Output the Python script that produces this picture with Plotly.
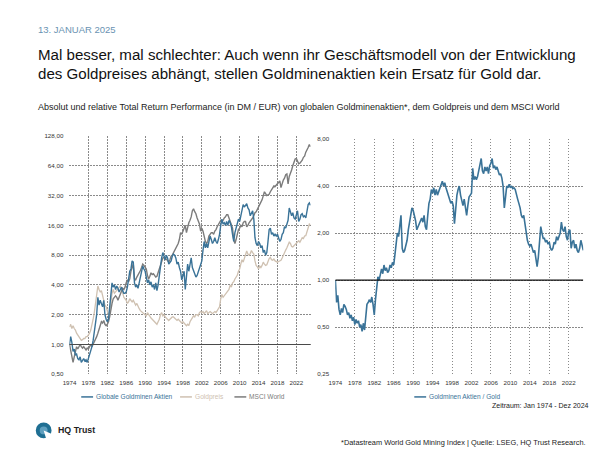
import math
import pandas as pd
import plotly.graph_objects as go

# ---------------- data (quarterly readings, Jan 1974 .. Jan 2025) ----------------
miners = [
    1.0, 1.2, 1.05, 0.85,   0.9, 0.78, 0.8, 0.72,   0.7, 0.75, 0.66, 0.7,   0.72, 0.68, 0.7, 0.66,
    0.72, 0.8, 0.9, 0.95,   1.1, 1.3, 1.6, 2.0,     3.0, 2.5, 2.8, 2.6,     2.4, 2.8, 2.0, 1.8,
    1.7, 1.8, 2.4, 3.5,     4.2, 3.8, 4.0, 3.6,     3.9, 3.7, 3.4, 3.6,     3.8, 3.5, 3.3, 3.3,
    3.4, 3.8, 4.5, 5.5,     5.8, 7.0, 6.8, 4.2,     3.8, 4.0, 3.7, 4.2,     4.8, 5.5, 6.2, 5.8,
    5.5, 4.8, 4.2, 4.5,     4.0, 4.3, 3.8, 4.0,     3.6, 4.2, 3.5, 4.0,     5.0, 6.5, 7.5, 8.5,
    7.8, 7.2, 8.0, 7.5,     6.5, 6.8, 7.0, 7.8,     8.2, 8.0, 7.5, 6.5,     6.8, 6.0, 5.5, 4.5,
    5.2, 5.5, 3.6, 5.0,     6.5, 5.5, 6.5, 7.5,     6.0, 5.5, 5.2, 4.8,     5.0, 5.5, 5.8, 6.5,
    7.0, 9.0, 11.0, 9.5,    10.5, 9.5, 11.0, 12.5,  11.5, 10.5, 11.0, 12.0, 11.0, 10.5, 11.5, 13.0,
    16.0, 18.5, 16.5, 17.0, 16.0, 17.5, 16.0, 18.0, 17.0, 15.5, 13.0, 11.0, 13.5, 15.0, 16.0, 18.5,
    17.5, 20.0, 23.0, 26.0, 24.5, 25.5, 26.5, 24.0, 23.0, 20.0, 21.0, 22.5, 18.5, 12.0, 10.5, 10.0,
    11.0, 10.5, 9.5, 10.0,  8.5, 9.0, 8.0, 8.5,     11.0, 14.5, 15.0, 13.0, 13.5, 12.5, 13.0, 12.5,
    13.0, 12.0, 11.0, 11.5, 13.0, 13.5, 15.5, 15.0, 16.5, 18.0, 24.0, 22.0, 20.0, 21.5, 19.0, 18.5,
    21.0, 22.5, 17.5, 18.5, 20.5, 21.0, 19.5, 20.0, 19.0, 23.0, 26.0, 27.0,
    25.5,
]

gold = [
    1.5, 1.6, 1.45, 1.55,   1.45, 1.4, 1.3, 1.25,   1.2, 1.15, 1.1, 1.12,   1.15, 1.15, 1.2, 1.2,
    1.25, 1.3, 1.4, 1.55,   1.8, 2.1, 2.6, 3.6,     3.9, 3.6, 3.4, 3.5,     3.1, 2.8, 2.5, 2.4,
    2.2, 2.0, 2.1, 2.9,     3.3, 3.6, 3.3, 3.4,     3.5, 3.6, 3.7, 3.9,     3.7, 3.3, 3.0, 2.9,
    2.8, 2.6, 2.7, 2.9,     2.8, 2.7, 2.8, 2.6,     2.5, 2.6, 2.4, 2.3,     2.2, 2.15, 2.1, 2.05,
    2.0, 1.95, 2.1, 2.0,    1.9, 1.85, 1.8, 1.75,   1.7, 1.65, 1.6, 1.7,    1.8, 2.0, 2.1, 1.95,
    2.0, 1.9, 1.85, 1.8,    1.75, 1.8, 1.85, 1.9,   1.9, 1.85, 1.8, 1.75,   1.8, 1.75, 1.7, 1.65,
    1.7, 1.65, 1.6, 1.55,   1.6, 1.55, 1.7, 1.8,    1.9, 1.95, 1.9, 2.0,    2.0, 1.95, 2.1, 2.15,
    2.1, 2.15, 2.05, 2.1,   2.2, 2.05, 2.1, 2.15,   2.1, 2.05, 2.1, 2.15,   2.1, 2.2, 2.25, 2.4,
    2.9, 3.2, 3.0, 3.1,     3.2, 3.3, 3.4, 3.6,     4.0, 3.8, 4.2, 4.3,     4.6, 4.8, 5.0, 5.5,
    5.8, 6.5, 7.2, 6.8,     7.5, 8.0, 8.8, 8.2,     8.0, 8.3, 8.9, 8.5,     8.2, 7.0, 6.3, 6.1,
    5.8, 6.2, 6.0, 6.3,     6.8, 6.5, 6.3, 6.4,     7.0, 7.4, 7.6, 7.2,     7.1, 7.3, 7.0, 6.9,
    6.8, 6.9, 7.0, 7.1,     7.5, 8.0, 8.8, 9.0,     9.5, 10.0, 10.8, 10.5,  9.8, 9.7, 10.0, 10.3,
    10.5, 11.0, 11.2, 10.8, 11.5, 12.0, 11.8, 12.5, 12.6, 14.0, 15.0, 16.5,
    16.2,
]

msci = [
    1.0, 0.85, 0.75, 0.66,  0.75, 0.85, 0.95, 0.9,  0.95, 1.0, 0.95, 0.92,  0.95, 0.9, 0.88, 0.92,
    0.9, 0.95, 1.0, 0.95,   1.0, 1.05, 1.1, 1.2,    1.3, 1.45, 1.55, 1.7,   1.65, 1.75, 1.6, 1.55,
    1.6, 1.7, 1.9, 2.3,     2.6, 2.9, 3.0, 3.1,     3.0, 2.8, 3.0, 3.2,     3.5, 3.7, 3.6, 3.8,
    4.2, 4.5, 4.3, 4.6,     5.5, 6.0, 6.5, 4.6,     4.5, 4.8, 5.0, 5.3,     5.6, 6.0, 6.5, 6.3,
    6.0, 5.8, 5.0, 4.6,     4.9, 5.3, 5.1, 5.2,     5.0, 4.8, 4.9, 5.3,     5.8, 6.5, 7.0, 7.5,
    7.6, 7.2, 7.3, 7.0,     6.8, 7.2, 7.8, 8.0,     8.5, 9.0, 9.2, 9.8,     10.5, 11.5, 13.5, 13.0,
    14.0, 15.5, 16.0, 13.5, 15.5, 17.0, 18.0, 19.5, 22.5, 23.5, 22.0, 21.0, 19.0, 17.5, 16.5, 14.0,
    15.0, 14.0, 12.0, 11.0, 10.5, 11.0, 12.5, 13.0, 13.5, 13.5, 13.0, 14.0, 14.5, 15.5, 16.5, 17.0,
    18.0, 17.5, 18.0, 19.0, 19.5, 20.5, 20.5, 19.0, 17.5, 16.5, 15.0, 11.5, 10.5, 11.5, 13.5, 14.5,
    15.0, 16.0, 15.5, 17.0, 17.5, 17.5, 15.5, 16.0, 17.0, 17.5, 18.0, 19.0, 20.0, 21.5, 22.0, 23.5,
    24.5, 26.0, 27.5, 29.0, 33.0, 35.0, 33.5, 32.0, 32.5, 33.0, 35.0, 37.0, 39.0, 40.0, 39.5, 41.0,
    42.0, 43.0, 45.0, 38.5, 43.0, 46.0, 48.0, 52.0, 53.0, 42.0, 50.0, 53.0, 58.0, 64.0, 70.0, 75.0,
    76.0, 70.0, 67.0, 68.0, 70.0, 73.0, 78.0, 80.0, 88.0, 92.0, 98.0, 105.0,
    100.0,
]

ratio = [
    1.0, 0.72, 0.8, 0.65,   0.6, 0.66, 0.62, 0.7,   0.68, 0.65, 0.6, 0.62,  0.57, 0.6, 0.55, 0.58,
    0.52, 0.56, 0.53, 0.55, 0.5, 0.52, 0.47, 0.53,  0.48, 0.62, 0.7, 0.72,  0.75, 0.72, 0.78, 0.7,
    0.6, 0.75, 0.95, 1.05,  1.0, 1.12, 1.18, 1.1,   1.25, 1.15, 1.2, 1.12,  1.15, 1.25, 1.2, 1.3,
    1.25, 1.45, 1.7, 2.0,   1.9, 2.3, 2.6, 1.6,     1.5, 1.55, 1.65, 1.8,   2.1, 2.4, 2.7, 2.9,
    2.8, 2.6, 2.4, 2.1,     2.2, 2.3, 2.4, 2.5,     2.35, 2.6, 2.2, 2.1,    2.6, 3.1, 3.3, 3.8,
    3.6, 3.9, 3.5, 3.8,     3.5, 3.7, 3.9, 4.1,     4.3, 4.0, 4.2, 3.9,     3.7, 3.4, 3.3, 3.1,
    3.2, 3.0, 2.3, 3.0,     3.5, 3.8, 4.0, 3.5,     3.2, 3.0, 3.3, 2.9,     2.6, 3.0, 3.4, 3.5,
    3.6, 5.2, 4.4, 4.6,     4.4, 4.6, 5.0, 5.4,     6.0, 5.0, 4.8, 5.3,     5.0, 5.3, 4.8, 5.4,
    5.6, 6.0, 5.2, 5.4,     5.1, 5.3, 4.9, 4.7,     4.8, 4.5, 4.0, 2.9,     3.4, 4.0, 3.9, 4.1,
    3.9, 4.0, 3.85, 3.9,    3.8, 3.6, 3.3, 3.1,     2.9, 2.6, 2.5, 2.6,     2.3, 2.0, 1.8, 1.7,
    1.65, 1.7, 1.6, 1.5,    1.55, 1.35, 1.22, 1.4,  1.8, 2.2, 2.0, 1.85,    1.85, 1.75, 1.8, 1.7,
    1.75, 1.6, 1.55, 1.6,   1.75, 1.7, 1.9, 1.8,    1.9, 2.0, 2.35, 2.1,    2.05, 2.2, 1.9, 1.8,
    2.05, 2.1, 1.6, 1.75,   1.8, 1.6, 1.7, 1.55,    1.5, 1.6, 1.8, 1.65,
    1.55,
]

dates = pd.date_range("1974-01-01", periods=len(miners), freq="QS")

tick_years = ["1974", "1978", "1982", "1986", "1990", "1994", "1998",
              "2002", "2006", "2010", "2014", "2018", "2022"]
left_yvals = [0.5, 1, 2, 4, 8, 16, 32, 64, 128]
left_ytext = ["0,50", "1,00", "2,00", "4,00", "8,00", "16,00", "32,00", "64,00", "128,00"]
right_yvals = [0.25, 0.5, 1, 2, 4, 8]
right_ytext = ["0,25", "0,50", "1,00", "2,00", "4,00", "8,00"]
base_line = [1, 1]
x_span = ["1974-01-01", "2025-01-01"]

# ---------------- styles ----------------
BLUE = "#3a7398"
GOLD = "#cfc1b1"
GRAY = "#7c7c7c"
FONT = "Liberation Sans, Arial, Helvetica, sans-serif"
W, H = 600, 450


def px(x):
    return x / W


def py(y):
    return 1 - y / H


fig = go.Figure()

fig.add_trace(go.Scatter(x=dates, y=gold, mode="lines", line=dict(color=GOLD, width=1.3),
                         xaxis="x", yaxis="y", showlegend=False, hoverinfo="skip"))
fig.add_trace(go.Scatter(x=dates, y=msci, mode="lines", line=dict(color=GRAY, width=1.4),
                         xaxis="x", yaxis="y", showlegend=False, hoverinfo="skip"))
fig.add_trace(go.Scatter(x=dates, y=miners, mode="lines", line=dict(color=BLUE, width=1.4),
                         xaxis="x", yaxis="y", showlegend=False, hoverinfo="skip"))
fig.add_trace(go.Scatter(x=x_span, y=base_line, mode="lines", line=dict(color="#4a4a4a", width=1.2),
                         xaxis="x", yaxis="y", showlegend=False, hoverinfo="skip"))

fig.add_trace(go.Scatter(x=dates, y=ratio, mode="lines", line=dict(color=BLUE, width=1.6),
                         xaxis="x2", yaxis="y2", showlegend=False, hoverinfo="skip"))
fig.add_trace(go.Scatter(x=x_span, y=base_line, mode="lines", line=dict(color="#111111", width=1.2),
                         xaxis="x2", yaxis="y2", showlegend=False, hoverinfo="skip"))

tickvals_x = [f"{y}-01-01" for y in tick_years]
GRID = dict(showgrid=True, gridcolor="#8a8a8a", gridwidth=0.7, griddash="1.5px,1.5px")
TICKFONT = dict(size=6.2, color="#333333", family=FONT)
common_x = dict(type="date", tickvals=tickvals_x, ticktext=tick_years, zeroline=False,
                showline=False, ticks="", tickfont=TICKFONT, ticklabelstandoff=4,
                range=["1973-12-20", "2024-12-31"], fixedrange=True, **GRID)
common_y = dict(type="log", zeroline=False, showline=False, ticks="", tickfont=TICKFONT,
                ticklabelstandoff=5, fixedrange=True, **GRID)

fig.update_layout(
    width=W, height=H, margin=dict(l=0, r=0, t=0, b=0),
    paper_bgcolor="white", plot_bgcolor="white",
    font=dict(family=FONT, color="#222222"),
    xaxis=dict(domain=[px(55), px(299)], anchor="y", **common_x),
    yaxis=dict(domain=[py(368), py(126)], anchor="x", tickvals=left_yvals, ticktext=left_ytext,
               range=[math.log10(0.5), math.log10(128)], **common_y),
    xaxis2=dict(domain=[px(324), px(575)], anchor="y2", **common_x),
    yaxis2=dict(domain=[py(368), py(129)], anchor="x2", tickvals=right_yvals, ticktext=right_ytext,
                range=[math.log10(0.25), math.log10(8)], **common_y),
    showlegend=False,
)

annotations = []


def text(x, y, s, size, color="#222222", xanchor="left", bold=False, angle=0):
    annotations.append(dict(
        x=px(x), y=py(y), xref="paper", yref="paper", text=(f"<b>{s}</b>" if bold else s),
        showarrow=False, xanchor=xanchor, yanchor="middle", textangle=angle,
        font=dict(size=size, color=color, family=FONT)))


text(21, 18, "13. JANUAR 2025", 9.5, color="#6a93b2")
text(21, 43, "Mal besser, mal schlechter: Auch wenn ihr Geschäftsmodell von der Entwicklung", 15.1,
     color="#111111")
text(21, 62, "des Goldpreises abhängt, stellen Goldminenaktien kein Ersatz für Gold dar.", 15.1,
     color="#111111")
text(21, 97, "Absolut und relative Total Return Performance (in DM / EUR) von globalen "
             "Goldminenaktien*, dem Goldpreis und dem MSCI World", 9, color="#222222")

# legends
shapes = []


def legend_item(x0, y, label, color):
    shapes.append(dict(type="line", xref="paper", yref="paper", x0=px(x0), x1=px(x0 + 12),
                       y0=py(y), y1=py(y), line=dict(color=color, width=1.5)))
    text(x0 + 13, y, label, 6.6, color=color)


legend_item(67, 391, "Globale Goldminen Aktien", BLUE)
legend_item(167, 391, "Goldpreis", GOLD)
legend_item(222, 391, "MSCI World", GRAY)
legend_item(404, 391, "Goldminen Aktien / Gold", BLUE)

text(583, 400, "Zeitraum: Jan 1974 - Dez 2024", 7, color="#222222", xanchor="right")
text(580, 437, "*Datastream World Gold Mining Index | Quelle: LSEG, HQ Trust Research.", 7.4,
     color="#222222", xanchor="right")
text(41, 425, "HQ Trust", 8.8, color="#222222", bold=True)
text(589, 228, "© 2024 HQ Trust GmbH. All Rights Reserved.", 4.4, color="#444444",
     xanchor="center", angle=-90)

# logo: blue disc with a white notch (the "Q" tail)
shapes.append(dict(type="circle", xref="paper", yref="paper", x0=px(21), x1=px(37),
                   y0=py(433), y1=py(417), fillcolor="#1f6f93", line=dict(width=0)))
shapes.append(dict(type="circle", xref="paper", yref="paper", x0=px(25), x1=px(33),
                   y0=py(429), y1=py(421), fillcolor="#5fa0bf", line=dict(width=0)))
shapes.append(dict(type="path", xref="paper", yref="paper",
                   path=f"M {px(29)} {py(425)} L {px(38)} {py(429)} L {px(38)} {py(435)} "
                        f"L {px(32)} {py(435)} Z",
                   fillcolor="white", line=dict(width=0)))

fig.update_layout(annotations=annotations, shapes=shapes)

fig.write_html("out.html")
